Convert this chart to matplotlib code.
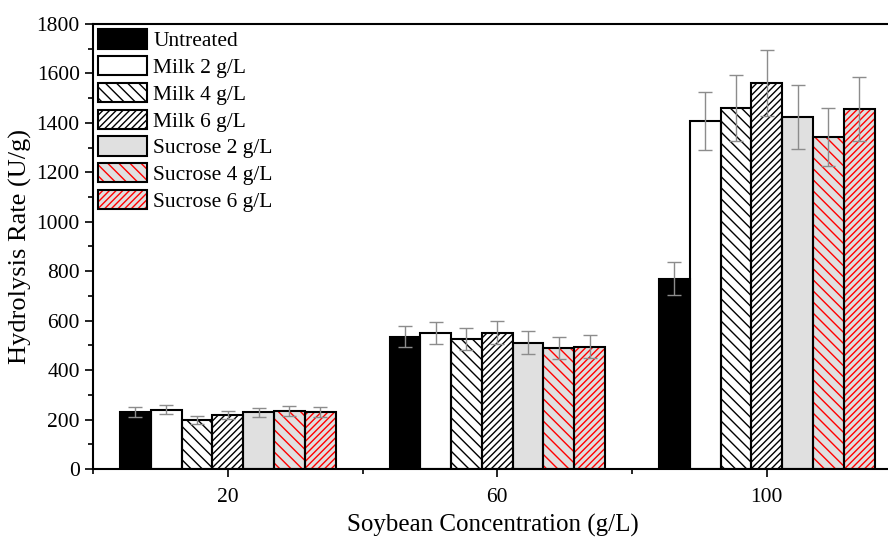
import matplotlib
matplotlib.use("Agg")
import matplotlib.pyplot as plt
from matplotlib.patches import Patch
from matplotlib.ticker import MultipleLocator
import numpy as np

plt.rcParams["font.family"] = ["Liberation Serif", "DejaVu Serif"]

# soybean concentration groups (g/L)
concentrations = [20, 60, 100]
series_names = ["Untreated", "Milk 2 g/L", "Milk 4 g/L", "Milk 6 g/L",
                "Sucrose 2 g/L", "Sucrose 4 g/L", "Sucrose 6 g/L"]

# hydrolysis rate (U/g), one list per series, values for 20 / 60 / 100 g/L
untreated = [230, 535, 770]
milk_2 = [240, 550, 1406]
milk_4 = [198, 526, 1460]
milk_6 = [218, 552, 1561]
sucrose_2 = [229, 511, 1423]
sucrose_4 = [235, 490, 1343]
sucrose_6 = [231, 494, 1456]

# standard deviations
untreated_err = [20, 43, 68]
milk_2_err = [18, 43, 117]
milk_4_err = [17, 44, 133]
milk_6_err = [16, 48, 135]
sucrose_2_err = [18, 46, 130]
sucrose_4_err = [19, 44, 119]
sucrose_6_err = [20, 46, 131]

values = [untreated, milk_2, milk_4, milk_6, sucrose_2, sucrose_4, sucrose_6]
errors = [untreated_err, milk_2_err, milk_4_err, milk_6_err,
          sucrose_2_err, sucrose_4_err, sucrose_6_err]

# (fill, hatch, hatch colour)
styles = [
    ("black", None, "black"),
    ("white", None, "black"),
    ("white", "\\\\\\", "black"),
    ("white", "/////", "black"),
    ("#e0e0e0", None, "black"),
    ("#e0e0e0", "\\\\\\", "red"),
    ("#e0e0e0", "/////", "red"),
]

fig = plt.figure(figsize=(8.88, 5.38), dpi=100)
ax = fig.add_axes([0.1047, 0.1283, 0.9, 0.8271])

width = 4.57
x = np.array(concentrations, dtype=float)
handles = []
for i, (name, vals, errs, (fill, hatch, hcol)) in enumerate(
        zip(series_names, values, errors, styles)):
    pos = x + (i - 3) * width
    # filled bar carries the hatch in its own colour
    ax.bar(pos, vals, width, color=fill, edgecolor=hcol, hatch=hatch,
           linewidth=0, zorder=2)
    # black outline on top
    ax.bar(pos, vals, width, fill=False, edgecolor="black",
           linewidth=1.5, zorder=3)
    ax.errorbar(pos, vals, yerr=errs, fmt="none", ecolor="#8c8c8c",
                elinewidth=1.0, capsize=5, capthick=1.0, zorder=4)
    handles.append((
        Patch(facecolor=fill, edgecolor=hcol, hatch=hatch, linewidth=0),
        Patch(fill=False, edgecolor="black", linewidth=1.5),
    ))

ax.set_xlim(0, 118.6)
ax.set_ylim(0, 1800)
ax.set_xticks(concentrations)
ax.xaxis.set_minor_locator(MultipleLocator(40))
ax.yaxis.set_major_locator(MultipleLocator(200))
ax.yaxis.set_minor_locator(MultipleLocator(100))
ax.tick_params(which="major", direction="out", length=6, width=1.2,
               labelsize=15.5)
ax.tick_params(which="minor", direction="out", length=3.5, width=1.2)
ax.tick_params(axis="x", pad=8)
ax.spines["right"].set_visible(False)
for s in ["left", "bottom", "top"]:
    ax.spines[s].set_linewidth(1.5)

ax.set_xlabel("Soybean Concentration (g/L)", fontsize=18, labelpad=5)
ax.set_ylabel("Hydrolysis Rate (U/g)", fontsize=19, labelpad=3)

ax.legend(handles, series_names, loc="upper left",
          bbox_to_anchor=(0.0, 1.0), frameon=False, fontsize=15.5,
          handlelength=2.25, handleheight=1.0, labelspacing=0.22,
          handletextpad=0.3, borderaxespad=0.1, borderpad=0.15)

fig.savefig("out.png", dpi=100)
